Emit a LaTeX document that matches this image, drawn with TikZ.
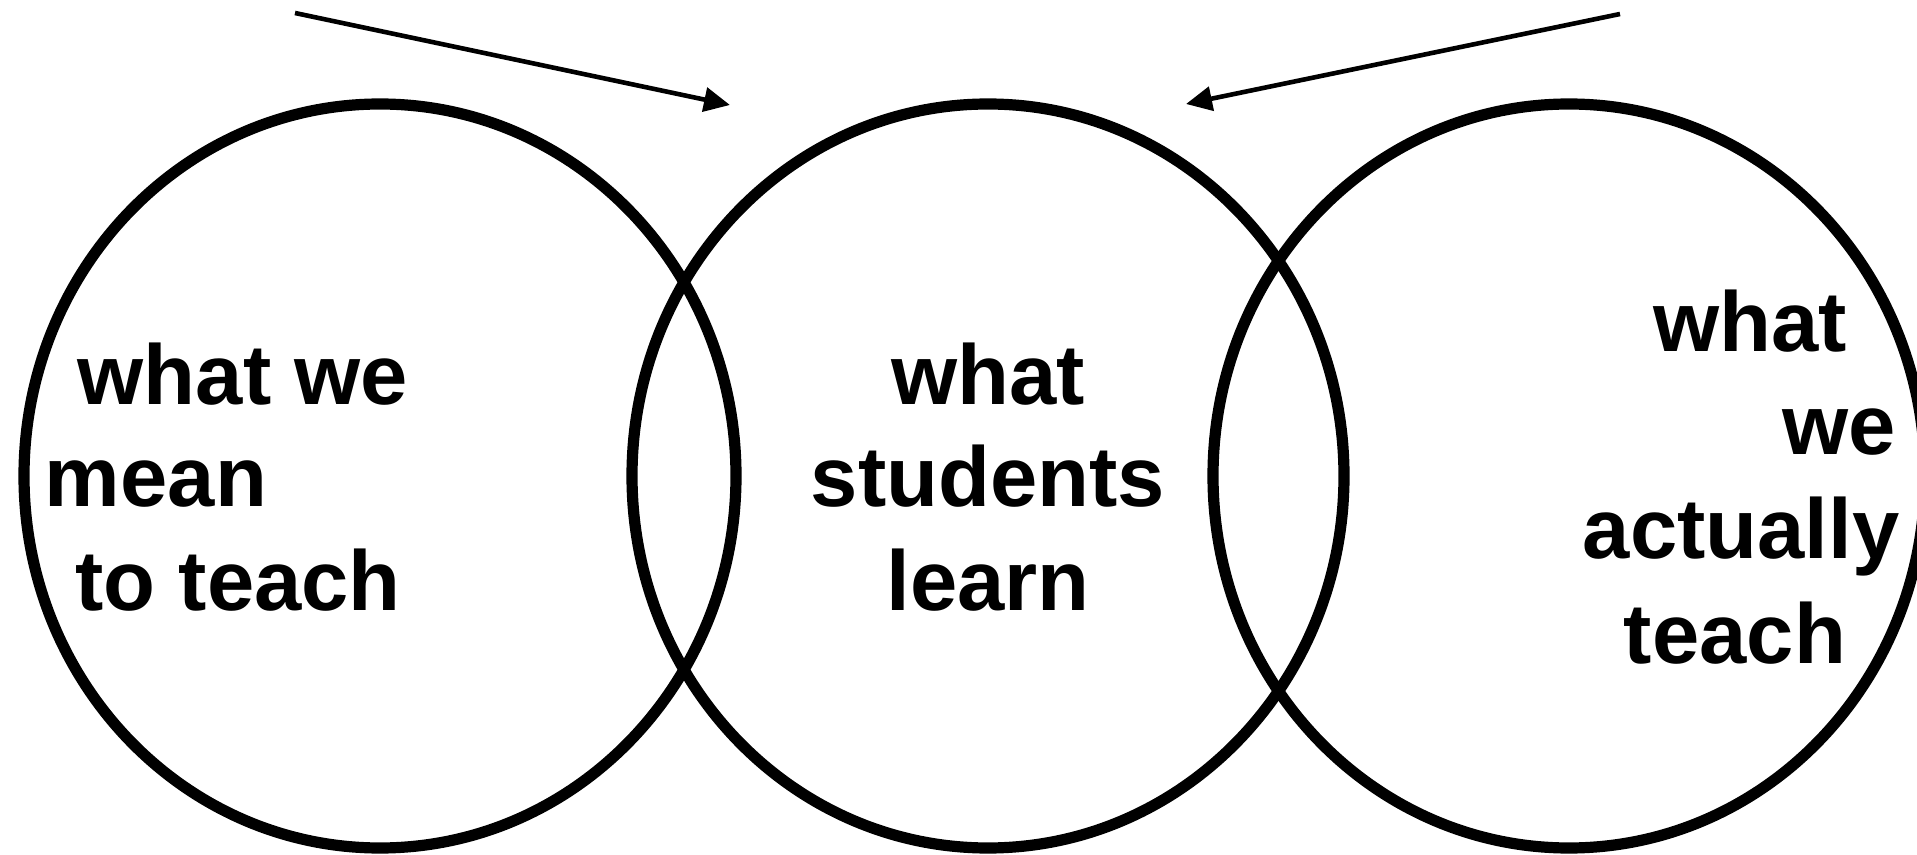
\documentclass[tikz,border=0pt]{standalone}
\usepackage{fontspec}
\setmainfont{Liberation Sans}
\usetikzlibrary{arrows.meta}

\begin{document}
\begin{tikzpicture}[x=0.5pt,y=-0.5pt,
    ring/.style={line width=5.6pt},
    pointer/.style={line width=2.3pt,-{Triangle[length=13pt,width=12pt]}},
    words/.style={font=\fontsize{42.5}{51}\selectfont\bfseries,inner sep=0pt,anchor=base}]
  \useasboundingbox (0,0) rectangle (1917,855);

  % three overlapping rings
  \draw[ring] (380,476) ellipse [x radius=356,y radius=372];
  \draw[ring] (988,476) ellipse [x radius=356,y radius=372];
  \draw[ring] (1569,476) ellipse [x radius=356,y radius=372];

  % end points of the two pointers
  \coordinate (meanstart) at (295,13);
  \coordinate (meantip) at (730,105);
  \coordinate (actualstart) at (1620,14);
  \coordinate (actualtip) at (1186,104);

  \draw[pointer] (meanstart) -- (meantip);
  \draw[pointer] (actualstart) -- (actualtip);

  % left ring
  \node[words] (meanone) at (243,405) {what we};
  \node[words] (meantwo) at (156,507) {mean};
  \node[words] (meanthree) at (238,610) {to teach};

  % middle ring
  \node[words] (learnone) at (988,405) {what};
  \node[words] (learntwo) at (988,507) {students};
  \node[words] (learnthree) at (988,610) {learn};

  % right ring
  \node[words] (actualone) at (1750,352) {what};
  \node[words] (actualtwo) at (1839,455) {we};
  \node[words] (actualthree) at (1741,558) {actually};
  \node[words] (actualfour) at (1735,663) {teach};
\end{tikzpicture}
\end{document}
